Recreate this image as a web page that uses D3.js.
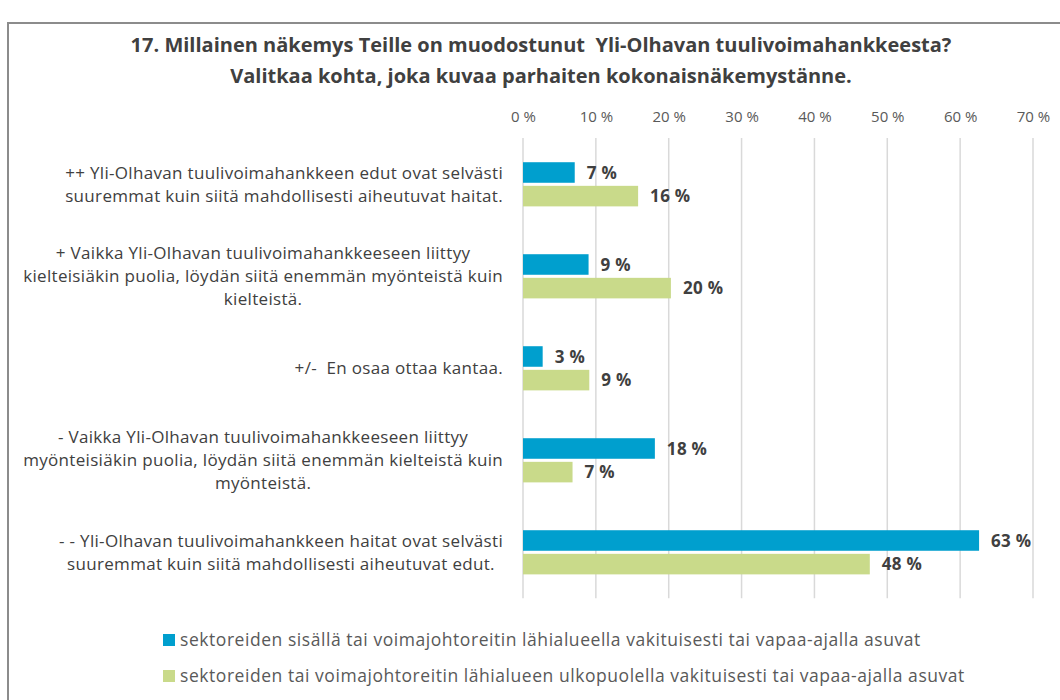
<!DOCTYPE html>
<html><head><meta charset="utf-8">
<script src="https://cdn.jsdelivr.net/npm/d3@7"></script>
<style>body{margin:0;background:#fff}svg{display:block;font-family:"Open Sans",sans-serif}svg text{white-space:pre}</style>
</head><body><svg id="c" width="1060" height="700"></svg>
<script>
const categories = [
  ["++ Yli-Olhavan tuulivoimahankkeen edut ovat selvästi","suuremmat kuin siitä mahdollisesti aiheutuvat haitat."],
  ["+ Vaikka Yli-Olhavan tuulivoimahankkeeseen liittyy","kielteisiäkin puolia, löydän siitä enemmän myönteistä kuin","kielteistä."],
  ["+/-  En osaa ottaa kantaa."],
  ["- Vaikka Yli-Olhavan tuulivoimahankkeeseen liittyy","myönteisiäkin puolia, löydän siitä enemmän kielteistä kuin","myönteistä."],
  ["- - Yli-Olhavan tuulivoimahankkeen haitat ovat selvästi","suuremmat kuin siitä mahdollisesti aiheutuvat edut."]
];
const seriesNames = [
  "sektoreiden sisällä tai voimajohtoreitin lähialueella vakituisesti tai vapaa-ajalla asuvat",
  "sektoreiden tai voimajohtoreitin lähialueen ulkopuolella vakituisesti tai vapaa-ajalla asuvat"
];
const insideValues = [7.1, 9.0, 2.7, 18.1, 62.6];
const outsideValues = [15.8, 20.3, 9.1, 6.8, 47.6];
const valueLabels = [["7 %","16 %"],["9 %","20 %"],["3 %","9 %"],["18 %","7 %"],["63 %","48 %"]];
const tickValues = [0,10,20,30,40,50,60,70];
const tickLabels = ["0 %","10 %","20 %","30 %","40 %","50 %","60 %","70 %"];
const titleLines = ["17. Millainen näkemys Teille on muodostunut  Yli-Olhavan tuulivoimahankkeesta?","Valitkaa kohta, joka kuvaa parhaiten kokonaisnäkemystänne."];
const colors = ["#009FCE","#C9DA8A"];

const svg = d3.select("#c");
svg.append("rect").attr("x",8).attr("y",23).attr("width",1100).attr("height",720)
  .attr("fill","#fff").attr("stroke","#8c8c8c").attr("stroke-width",2);

const x = d3.scaleLinear().domain([0,70]).range([523,1033]);
const y0 = d3.scaleBand().domain(d3.range(categories.length)).range([138.3,598.3]).paddingInner(0.52).paddingOuter(0.26);
const y1 = d3.scaleBand().domain([0,1]).range([0,y0.bandwidth()]).paddingInner(0.13);

// title
svg.append("g").selectAll("text").data(titleLines).join("text")
  .attr("x",541).attr("y",(d,i)=>52+i*31).attr("text-anchor","middle")
  .attr("font-weight","bold").attr("font-size",20).attr("fill","#404040").text(d=>d);

// grid + axis
const ax = d3.axisTop(x).tickValues(tickValues).tickFormat((d,i)=>tickLabels[i]).tickSize(0).tickPadding(0);
const gAx = svg.append("g").attr("transform","translate(0,122)").call(ax);
gAx.select(".domain").remove();
gAx.selectAll("text").attr("font-size",15).attr("fill","#595959").attr("font-family","'Open Sans',sans-serif");
svg.append("g").selectAll("line").data(tickValues).join("line")
  .attr("x1",d=>x(d)).attr("x2",d=>x(d)).attr("y1",138).attr("y2",598.3)
  .attr("stroke","#d9d9d9").attr("stroke-width",1.5);

// bars
const rows = categories.map((c,i)=>[insideValues[i],outsideValues[i]]);
const g = svg.append("g").selectAll("g").data(rows).join("g").attr("transform",(d,i)=>`translate(0,${y0(i)})`);
g.selectAll("rect").data(d=>d).join("rect")
  .attr("x",x(0)).attr("y",(d,j)=>y1(j)).attr("width",d=>x(d)-x(0)).attr("height",y1.bandwidth())
  .attr("fill",(d,j)=>colors[j]);
g.selectAll("text").data((d,i)=>d.map((v,j)=>({v,l:valueLabels[i][j],j}))).join("text")
  .attr("x",d=>x(d.v)+12).attr("y",d=>y1(d.j)+y1.bandwidth()/2).attr("dy","0.36em")
  .attr("font-weight","bold").attr("font-size",17).attr("letter-spacing",0.3).attr("fill","#404040").text(d=>d.l);

// category labels
const lh = 23;
categories.forEach((lines,i)=>{
  const cy = y0(i)+y0.bandwidth()/2;
  const gt = svg.append("g");
  const ts = gt.selectAll("text").data(lines).join("text")
    .attr("font-size",17).attr("letter-spacing",0.32).attr("fill","#404040")
    .attr("y",(d,k)=>cy+(k-(lines.length-1)/2)*lh).attr("dy","0.35em").text(d=>d);
  let maxW = 0; ts.each(function(){maxW=Math.max(maxW,this.getComputedTextLength());});
  ts.attr("x",503-maxW/2).attr("text-anchor","middle");
});

// legend
const lg = svg.append("g").selectAll("g").data(seriesNames).join("g")
  .attr("transform",(d,i)=>`translate(163,${640+i*36})`);
lg.append("rect").attr("x",0).attr("y",-6).attr("width",12).attr("height",12).attr("fill",(d,i)=>colors[i]);
lg.append("text").attr("x",17).attr("dy","0.35em").attr("font-size",17.5).attr("letter-spacing",0.55).attr("fill","#595959").text(d=>d);
</script></body></html>
